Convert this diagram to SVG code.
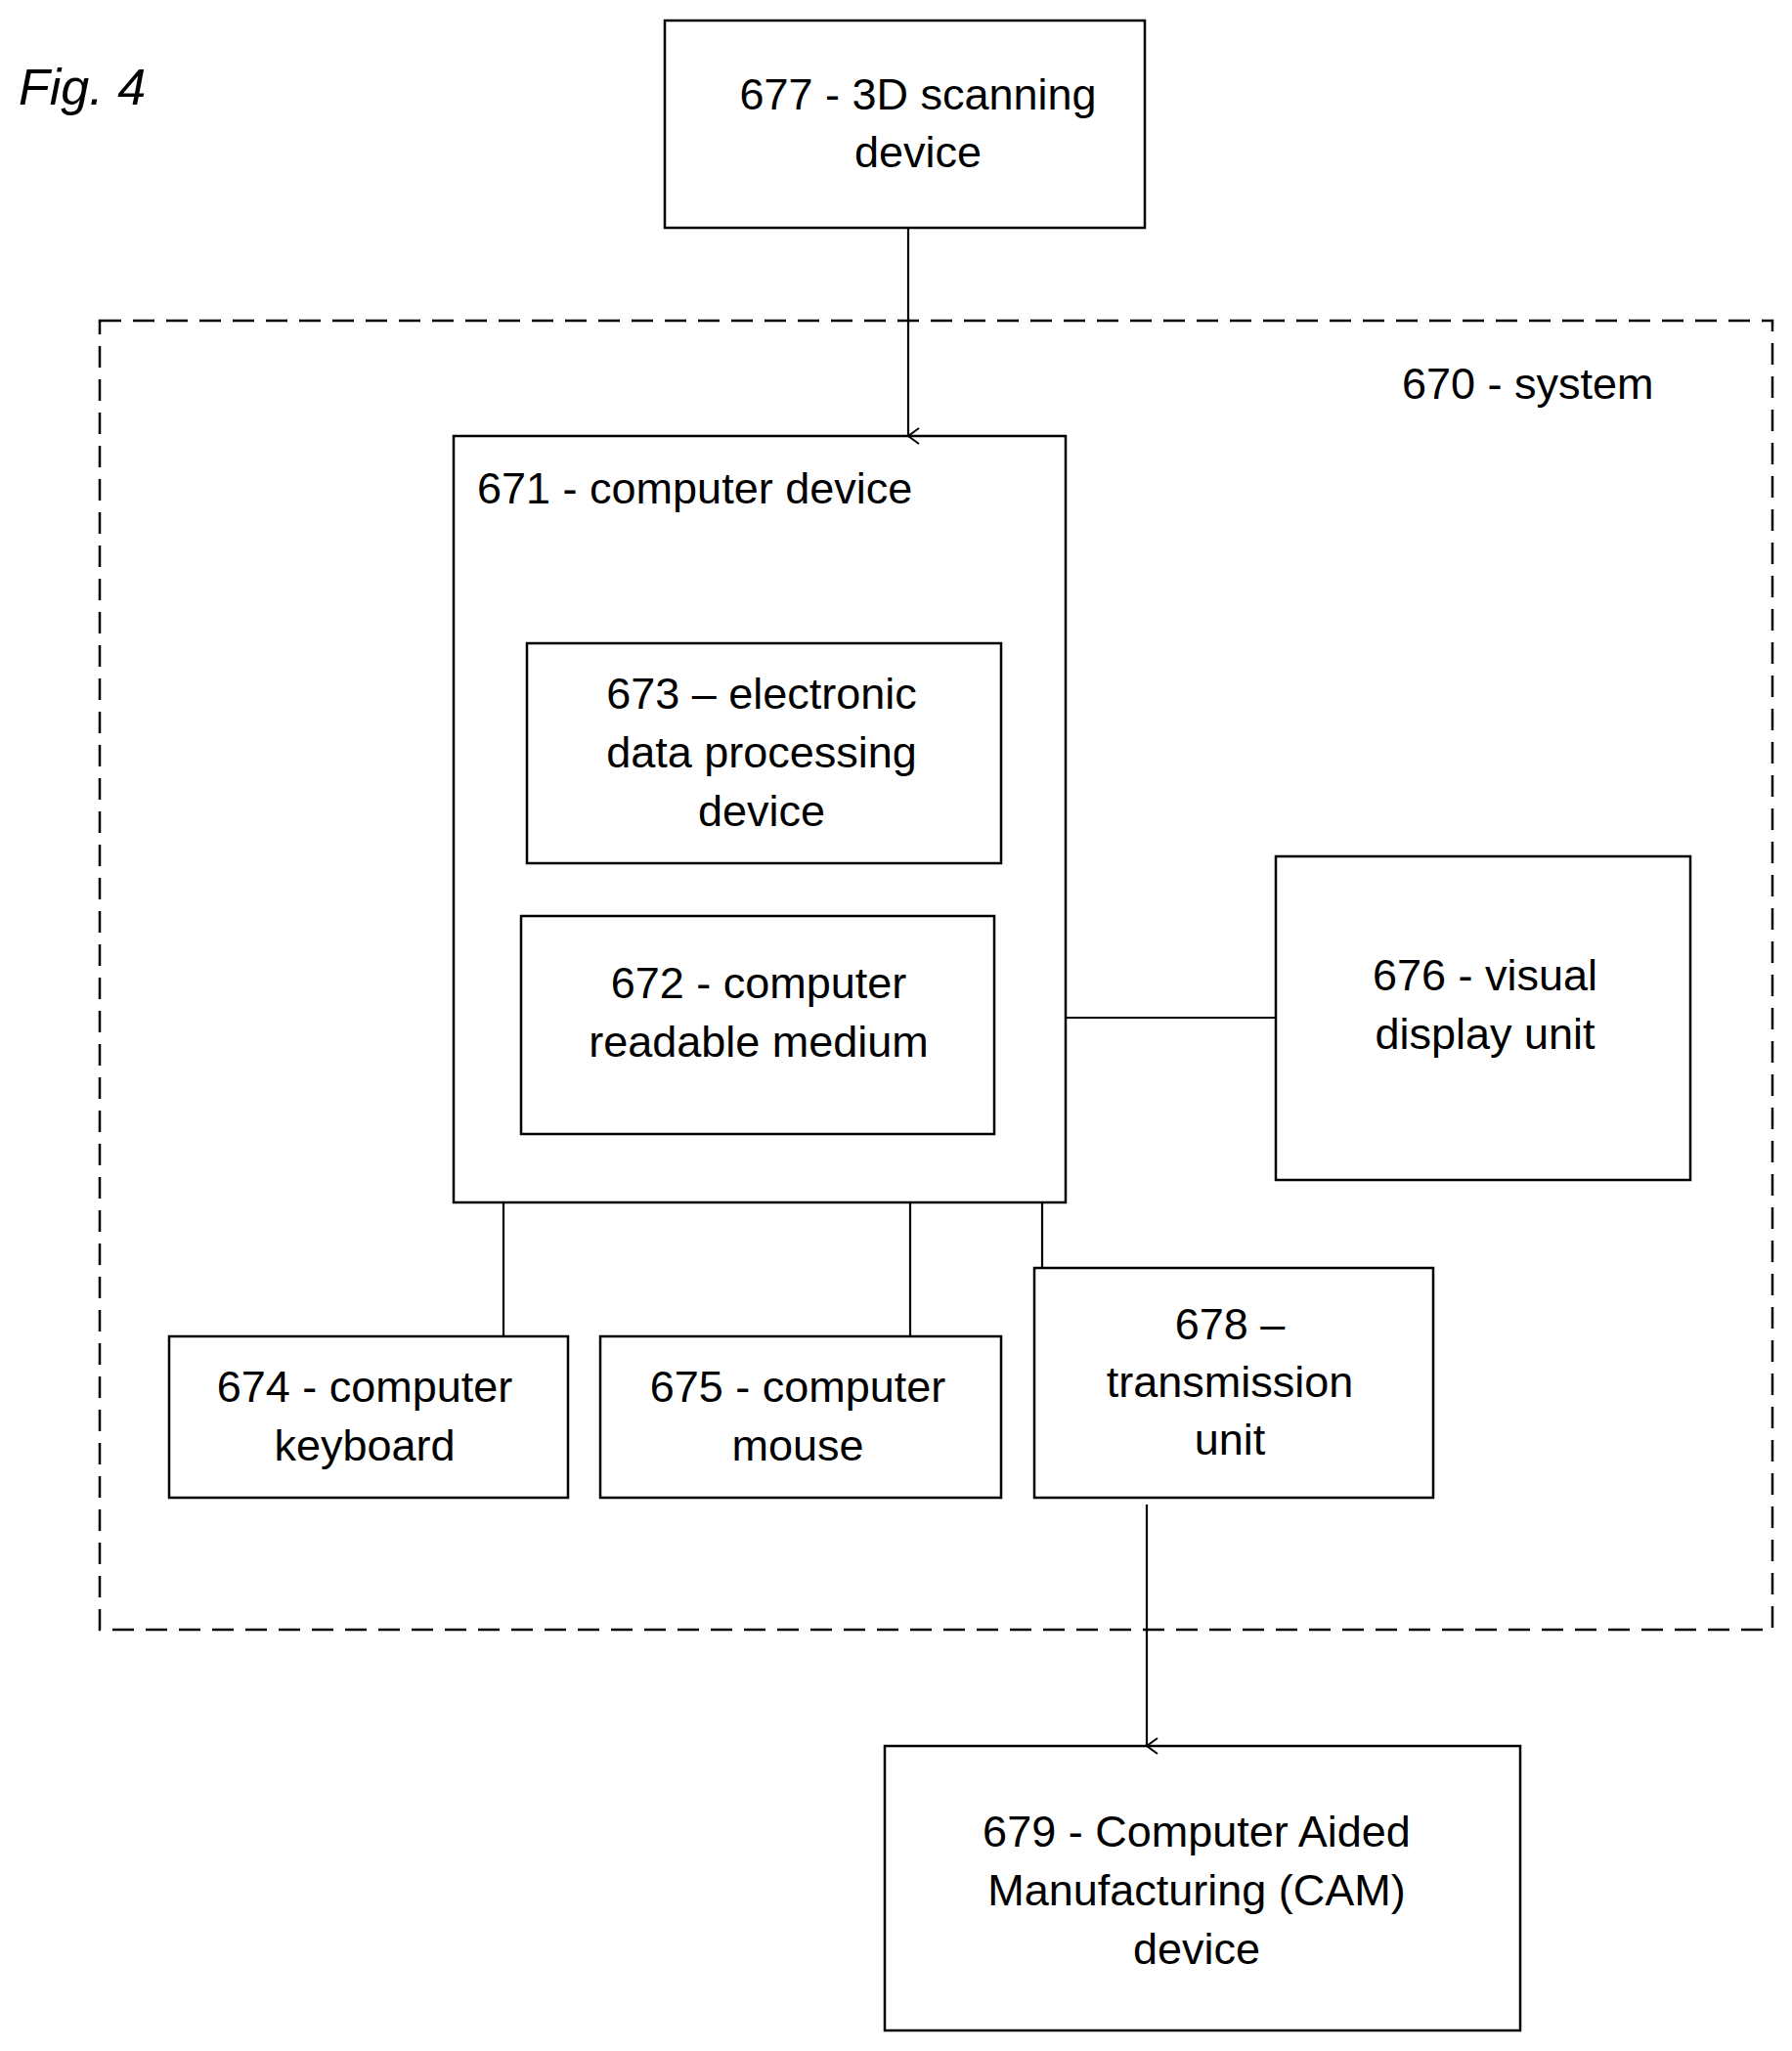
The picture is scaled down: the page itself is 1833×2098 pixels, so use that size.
<svg xmlns="http://www.w3.org/2000/svg" width="1833" height="2098" viewBox="0 0 1833 2098">
<style>
.b{fill:#fff;stroke:#000;stroke-width:2.5}
.t{font-family:"Liberation Sans",Arial,sans-serif;font-size:45px;fill:#000;text-anchor:middle}
.c{stroke:#000;stroke-width:2.2;fill:none}
</style>
<defs><marker id="a" markerWidth="20" markerHeight="20" refX="10" refY="15" orient="auto" markerUnits="userSpaceOnUse" viewBox="0 0 20 20"><path d="M2,4 L10,15 L18,4" fill="none" stroke="#000" stroke-width="2"/></marker></defs>
<rect width="1833" height="2098" fill="#fff"/>
<text x="19" y="107" font-family="Liberation Sans,Arial,sans-serif" font-size="52" font-style="italic">Fig. 4</text>
<g id="n670"><rect x="102" y="328" width="1711" height="1339" fill="none" stroke="#000" stroke-width="2.5" stroke-dasharray="22,12"/><text class="t" x="1434" y="408" text-anchor="start" style="text-anchor:start">670 - system</text></g>
<g id="n677"><rect class="b" x="680" y="21" width="491" height="212"/><text class="t" x="939" y="112">677 - 3D scanning</text><text class="t" x="939" y="171">device</text></g>
<g id="n671"><rect class="b" x="464" y="446" width="626" height="784"/><text class="t" x="488" y="515" style="text-anchor:start">671 - computer device</text></g>
<g id="n673"><rect class="b" x="539" y="658" width="485" height="225"/><text class="t" x="779" y="725">673 – electronic</text><text class="t" x="779" y="785">data processing</text><text class="t" x="779" y="845">device</text></g>
<g id="n672"><rect class="b" x="533" y="937" width="484" height="223"/><text class="t" x="776" y="1021">672 - computer</text><text class="t" x="776" y="1081">readable medium</text></g>
<g id="n676"><rect class="b" x="1305" y="876" width="424" height="331"/><text class="t" x="1519" y="1013">676 - visual</text><text class="t" x="1519" y="1073">display unit</text></g>
<g id="n674"><rect class="b" x="173" y="1367" width="408" height="165"/><text class="t" x="373" y="1434">674 - computer</text><text class="t" x="373" y="1494">keyboard</text></g>
<g id="n675"><rect class="b" x="614" y="1367" width="410" height="165"/><text class="t" x="816" y="1434">675 - computer</text><text class="t" x="816" y="1494">mouse</text></g>
<g id="n678"><rect class="b" x="1058" y="1297" width="408" height="235"/><text class="t" x="1258" y="1370">678 –</text><text class="t" x="1258" y="1429">transmission</text><text class="t" x="1258" y="1488">unit</text></g>
<g id="n679"><rect class="b" x="905" y="1786" width="650" height="291"/><text class="t" x="1224" y="1889">679 - Computer Aided</text><text class="t" x="1224" y="1949">Manufacturing (CAM)</text><text class="t" x="1224" y="2009">device</text></g>
<g id="connectors">
<line class="c" x1="929" y1="233" x2="929" y2="446" marker-end="url(#a)"/>
<line class="c" x1="1090" y1="1041" x2="1305" y2="1041"/>
<line class="c" x1="515" y1="1230" x2="515" y2="1367"/>
<line class="c" x1="931" y1="1230" x2="931" y2="1367"/>
<line class="c" x1="1066" y1="1230" x2="1066" y2="1297"/>
<line class="c" x1="1173" y1="1539" x2="1173" y2="1786" marker-end="url(#a)"/>
</g>
</svg>
